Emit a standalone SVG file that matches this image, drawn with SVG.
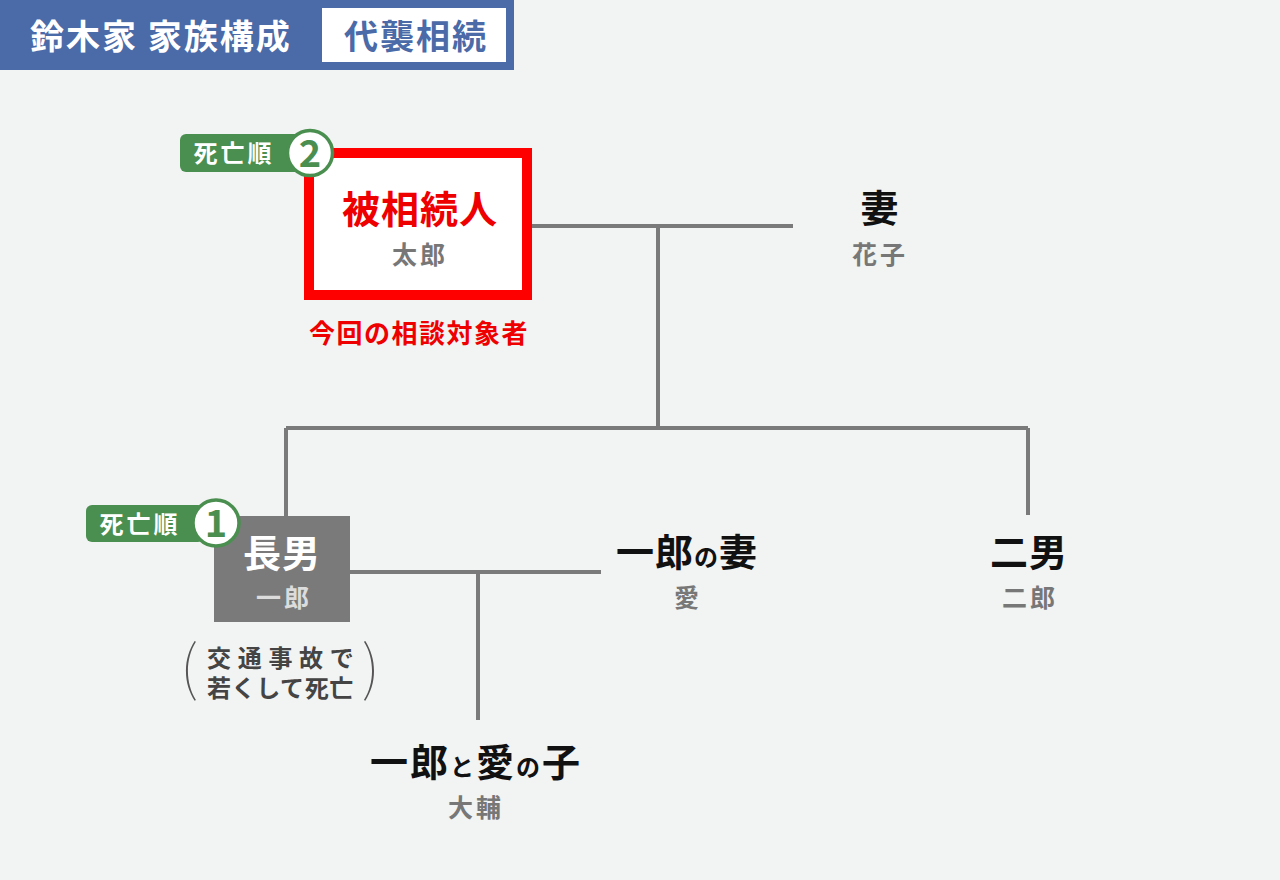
<svg xmlns="http://www.w3.org/2000/svg" width="1280" height="880" viewBox="0 0 1280 880">
<style>
text{font-family:"Noto Sans CJK JP","Noto Sans",sans-serif;text-anchor:middle}
.b{font-weight:700}
.name{font-size:38px;font-weight:700;fill:#111;letter-spacing:1px}
.sub{font-size:25px;font-weight:700;fill:#777;letter-spacing:3px}
.small{font-size:24px}
.ln{stroke:#7a7a7a;stroke-width:4;fill:none}
.badge{fill:#4a8f4f}
.bt{font-size:24px;font-weight:700;fill:#fff;letter-spacing:3px}
.circ{fill:#fff;stroke:#4a8f4f;stroke-width:3.5}
.num{font-size:38px;font-weight:700;fill:#4a8f4f}
.note{font-size:24px;font-weight:700;fill:#444;text-anchor:start}
.par{font-size:60px;font-weight:100;fill:#555}
</style>
<rect width="1280" height="880" fill="#f2f3f3"/>
<g id="header">
<rect x="0" y="0" width="514" height="70" fill="#4a6aa8"/>
<text x="30" y="49" class="b" style="font-size:34px;fill:#fff;letter-spacing:2px;text-anchor:start">鈴木家 家族構成</text>
<rect x="322" y="8" width="184" height="54" fill="#fff"/>
<text x="416" y="49" class="b" style="font-size:34px;fill:#4a6aa8;letter-spacing:2px">代襲相続</text>
</g>
<g id="connectors">
<path class="ln" d="M532 226H793M658 226V428M286 428H1028M286 428V516M1028 428V515M350 572H601M478 572V720"/>
</g>
<g id="decedent">
<rect x="309" y="153" width="218" height="142" fill="#fff" stroke="#ff0000" stroke-width="10"/>
<text x="420" y="223" class="b" style="font-size:38px;fill:#ee0000;letter-spacing:1px">被相続人</text>
<text x="420" y="264" class="sub">太郎</text>
<text x="419" y="343" class="b" style="font-size:26px;fill:#ee0000;letter-spacing:1.5px">今回の相談対象者</text>
</g>
<g id="badge2">
<rect x="180" y="134" width="122" height="38" rx="6" class="badge"/>
<text x="234" y="162" class="bt">死亡順</text>
<circle cx="310" cy="153" r="22.5" class="circ"/>
<text x="310" y="167" class="num">2</text>
</g>
<g id="wife">
<text x="880" y="222" class="name">妻</text>
<text x="880" y="264" class="sub">花子</text>
</g>
<g id="eldest">
<rect x="214" y="516" width="136" height="106" fill="#7a7a7a"/>
<text x="282" y="567" class="name" style="fill:#fff">長男</text>
<text x="284" y="607" class="sub" style="fill:#dcdcdc">一郎</text>
<text class="note"><tspan x="207" y="667" style="letter-spacing:6.7px">交通事故で</tspan><tspan x="207" y="697" style="letter-spacing:0.6px">若くして死亡</tspan></text>
<text x="189" y="689" class="par">(</text>
<text x="371" y="689" class="par">)</text>
</g>
<g id="badge1">
<rect x="86" y="505" width="118" height="37" rx="6" class="badge"/>
<text x="140" y="533" class="bt">死亡順</text>
<circle cx="216" cy="523" r="23" class="circ"/>
<text x="216" y="537" class="num">1</text>
</g>
<g id="ichiro-wife">
<text x="687" y="566" class="name">一郎<tspan class="small">の</tspan>妻</text>
<text x="688" y="607" class="sub">愛</text>
</g>
<g id="second-son">
<text x="1029" y="566" class="name">二男</text>
<text x="1030" y="607" class="sub">二郎</text>
</g>
<g id="grandchild">
<text x="476" y="776" class="name" style="letter-spacing:2px">一郎<tspan class="small">と</tspan>愛<tspan class="small">の</tspan>子</text>
<text x="476" y="817" class="sub">大輔</text>
</g>
</svg>
